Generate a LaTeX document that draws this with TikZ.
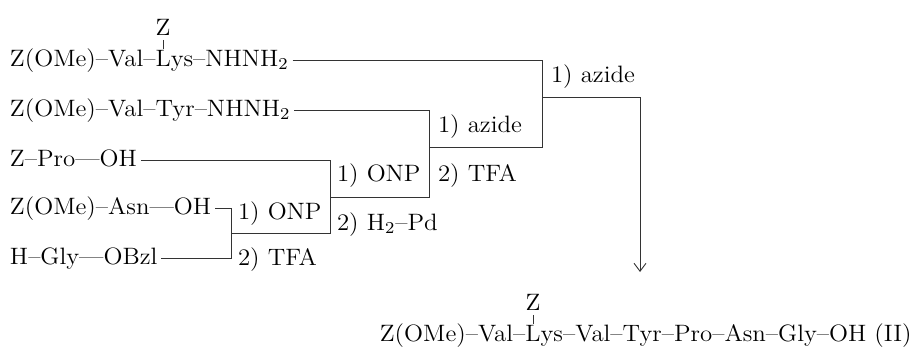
\documentclass[tikz,border=0pt]{standalone}
\usepackage{fontspec}
\setmainfont{Latin Modern Roman}[FakeStretch=1.05]
\usetikzlibrary{arrows.meta,calc}
\begin{document}
\begin{tikzpicture}[x=0.5pt,y=-0.5pt,
  every node/.style={font=\fontsize{11.85pt}{14pt}\selectfont, inner sep=0pt,
    outer sep=0pt, text height=8.3pt, text depth=2.4pt},
  chem/.style={anchor=base west},
  cond/.style={anchor=base west},
  link/.style={line width=0.45pt, draw=black!80},
  yield/.style={link, -{Straight Barb[length=4pt,width=6pt]}}]

\useasboundingbox (0,0) rectangle (913,350);

% starting fragments
\node[chem] (r1a) at (10,66) {Z(OMe)–Val–};
\node[chem] (r1L) at (r1a.base east) {L};
\node[chem] (r1b) at (r1L.base east) {ys–NHNH\textsubscript{2}};
\node[anchor=base] (r1Z) at ($(r1L.base)+(0,-31)$) {Z};

\node[chem] (r2) at (10,116) {Z(OMe)–Val–Tyr–NHNH\textsubscript{2}};
\node[chem] (r3) at (10,166) {Z–Pro—OH};
\node[chem] (r4) at (10,214) {Z(OMe)–Asn—OH};
\node[chem] (r5) at (10,264) {H–Gly—OBzl};

% junctions of the coupling brackets
\coordinate (Aj) at (231,233);
\coordinate (Bj) at (330,197);
\coordinate (Cj) at (429,147);
\coordinate (Dj) at (542,97);
\coordinate (tip) at (640,272);

% brackets
\draw[link] (r1Z.south) -- (r1L.north);
\draw[link, shorten <=2pt] (r4.east) -| (Aj);
\draw[link, shorten <=2pt] (r5.east) -| (Aj);
\draw[link] (Aj) -| (Bj);
\draw[link, shorten <=2pt] (r3.east) -| (Bj);
\draw[link] (Bj) -| (Cj);
\draw[link, shorten <=2pt] (r2.east) -| (Cj);
\draw[link] (Cj) -| (Dj);
\draw[link, shorten <=2pt] (r1b.east) -| (Dj);
\draw[yield] (Dj) -| (tip);

% reaction conditions
\node[cond] (A1) at ($(Aj)+(7,-14)$) {1) ONP};
\node[cond] (A2) at ($(Aj)+(7,32)$) {2) TFA};
\node[cond] (B1) at ($(Bj)+(7,-16)$) {1) ONP};
\node[cond] (B2) at ($(Bj)+(7,33)$) {2) H\textsubscript{2}–Pd};
\node[cond] (C1) at ($(Cj)+(9,-15)$) {1) azide};
\node[cond] (C2) at ($(Cj)+(9,34)$) {2) TFA};
\node[cond] (D1) at ($(Dj)+(9,-15)$) {1) azide};

% product
\node[anchor=base] (pL) at (533,341) {L};
\node[anchor=base east] (pa) at (pL.base west) {Z(OMe)–Val–};
\node[anchor=base west] (pb) at (pL.base east) {ys–Val–Tyr–Pro–Asn–Gly–OH (II)};
\node[anchor=base] (pZ) at ($(pL.base)+(0,-31)$) {Z};
\draw[link] (pZ.south) -- (pL.north);
\end{tikzpicture}
\end{document}
